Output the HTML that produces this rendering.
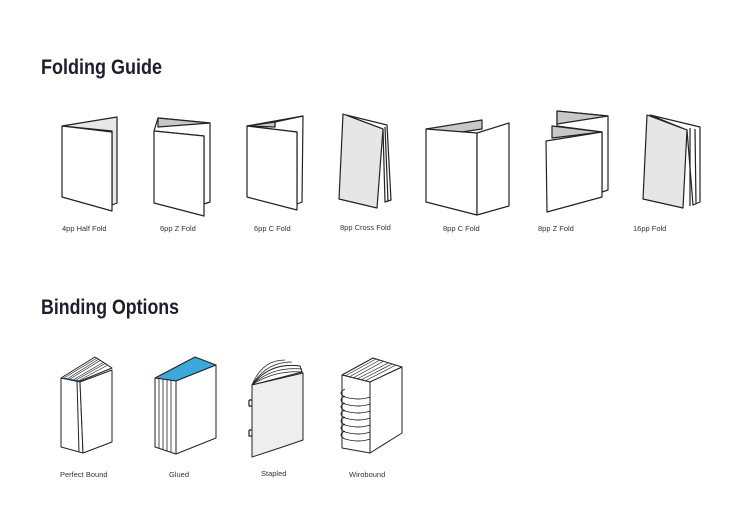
<!DOCTYPE html>
<html><head><meta charset="utf-8"><style>
html,body{margin:0;padding:0;background:#fff;}
svg{display:block}
</style></head><body>
<svg width="750" height="530" viewBox="0 0 750 530" xmlns="http://www.w3.org/2000/svg" font-family="Liberation Sans, sans-serif">
<rect width="750" height="530" fill="#fff"/>
<text x="41" y="74" font-size="21" font-weight="bold" fill="#1d1d2b" textLength="121" lengthAdjust="spacingAndGlyphs">Folding Guide</text>
<text x="41" y="314" font-size="21" font-weight="bold" fill="#1d1d2b" textLength="138" lengthAdjust="spacingAndGlyphs">Binding Options</text>
<g stroke="#222" stroke-width="1.2" stroke-linejoin="round" fill="#fff">
<!-- 4pp half -->
<polygon points="62,126 117,117 117,203 112,205 112,131" fill="#e8e8e8"/>
<polygon points="62,126 112,132 112,211 62,197"/>
<!-- 6pp Z -->
<polygon points="158,118 210,123 210,202 204,204 204,136 154,131" fill="#fff"/>
<polygon points="158,118 210,123 158,127" fill="#c8c8c8"/>
<polygon points="154,131 204,136 204,216 154,203"/>
<!-- 6pp C -->
<polygon points="247,126 303,116 302,202 297,204 297,132" fill="#fff"/>
<polygon points="247,126 275,122 275,127" fill="#c8c8c8"/>
<polyline points="275,127 275,122 303,116" fill="none"/>
<polygon points="247,126 297,132 297,210 247,197"/>
<!-- 8pp cross -->
<polygon points="346,115 387,125 391,200 385,202 383,129" fill="#fff"/>
<line x1="385" y1="127" x2="388" y2="201"/>
<polygon points="343,114 383,129 377,208 339,199" fill="#e6e6e6"/>
<!-- 8pp C -->
<polygon points="426,129 482,120 482,129 455,133" fill="#c8c8c8"/>
<polygon points="426,129 477,133 477,215 426,202"/>
<polygon points="477,133 509,123 509,206 477,215"/>
<!-- 8pp Z -->
<polygon points="557,111 608,116 608,190 602,192 602,132 557,126" fill="#fff"/>
<polygon points="557,111 608,116 557,124" fill="#c8c8c8"/>
<polygon points="552,126 602,132 552,138" fill="#c8c8c8"/>
<polygon points="546,141 602,132 602,197 547,212"/>
<!-- 16pp -->
<polygon points="650,115 700,127 700,202 693,205 687,130" fill="#fff"/>
<line x1="690" y1="128" x2="690" y2="206"/>
<line x1="695" y1="129" x2="696" y2="204"/>
<polygon points="647,115 687,130 683,208 643,199" fill="#e6e6e6"/>
</g>
<g font-size="7.5" fill="#333">
<text x="62" y="231">4pp Half Fold</text>
<text x="160" y="231">6pp Z Fold</text>
<text x="254" y="231">6pp C Fold</text>
<text x="340" y="230">8pp Cross Fold</text>
<text x="443" y="231">8pp C Fold</text>
<text x="538" y="231">8pp Z Fold</text>
<text x="633" y="231">16pp Fold</text>
<text x="60" y="477">Perfect Bound</text>
<text x="169" y="477">Glued</text>
<text x="261" y="476">Stapled</text>
<text x="349" y="477">Wirobound</text>
</g>
<g stroke="#222" stroke-width="1" stroke-linejoin="round" fill="#fff">
<!-- perfect bound -->
<polygon points="61,378 95,357 112,368 80,381" fill="#fff"/>
<g stroke-width="0.7">
<line x1="64" y1="378" x2="97" y2="358"/><line x1="67" y1="379" x2="99" y2="359"/><line x1="70" y1="379" x2="101" y2="360"/><line x1="73" y1="380" x2="104" y2="362"/><line x1="76" y1="380" x2="106" y2="363"/><line x1="78" y1="381" x2="108" y2="365"/>
</g>
<line x1="61" y1="378" x2="80" y2="382" stroke="#2a7fb8" stroke-width="2"/>
<polygon points="61,378 80,382 83,453 61,447"/>
<polygon points="80,382 112,370 112,442 83,453"/>
<line x1="77" y1="381" x2="79" y2="452"/>
<!-- glued -->
<polygon points="155,378 195,357 216,365 176,381" fill="#3aa9dc"/>
<polygon points="155,378 176,381 176,454 155,447"/>
<g stroke-width="0.8"><line x1="159" y1="379" x2="159" y2="448"/><line x1="163" y1="379" x2="163" y2="450"/><line x1="167" y1="380" x2="167" y2="451"/><line x1="171" y1="380" x2="171" y2="452"/></g>
<polygon points="176,381 216,365 216,438 176,454"/>
<!-- stapled -->
<path d="M252,385 Q270,362 300,366 L302,372 Z" fill="#fff"/>
<g fill="none" stroke-width="0.7"><path d="M252,385 Q272,366 302,369"/><path d="M252,385 Q274,370 303,372"/><path d="M252,385 Q262,360 285,360"/><path d="M252,385 Q266,362 292,362"/></g>
<path d="M252,385 L303,373 L303,440 Q280,448 252,457 Z" fill="#eeeeee"/>
<path d="M249,400 h3 M249,400 v6 h3 M249,430 h3 M249,430 v6 h3" fill="none" stroke-width="1.2"/>
<!-- wirobound -->
<polygon points="342,375 373,358 402,367 370,382"/>
<g stroke-width="0.7"><line x1="345" y1="376" x2="376" y2="359"/><line x1="349" y1="377" x2="380" y2="360"/><line x1="353" y1="378" x2="384" y2="361"/><line x1="357" y1="379" x2="388" y2="363"/><line x1="361" y1="380" x2="392" y2="364"/><line x1="365" y1="381" x2="396" y2="365"/></g>
<polygon points="342,375 370,382 370,453 342,448"/>
<polygon points="370,382 402,367 402,433 370,453"/>
<g fill="none" stroke-width="0.9">
<path d="M345,389 q-8,4 0,8 q14,4 25,0"/><path d="M345,396 q-8,4 0,8 q14,4 25,0"/><path d="M345,403 q-8,4 0,8 q14,4 25,0"/><path d="M345,410 q-8,4 0,8 q14,4 25,0"/><path d="M345,417 q-8,4 0,8 q14,4 25,0"/><path d="M345,424 q-8,4 0,8 q14,4 25,0"/><path d="M345,431 q-8,4 0,8 q14,4 25,0"/>
</g>
</g>
</svg>
</body></html>
